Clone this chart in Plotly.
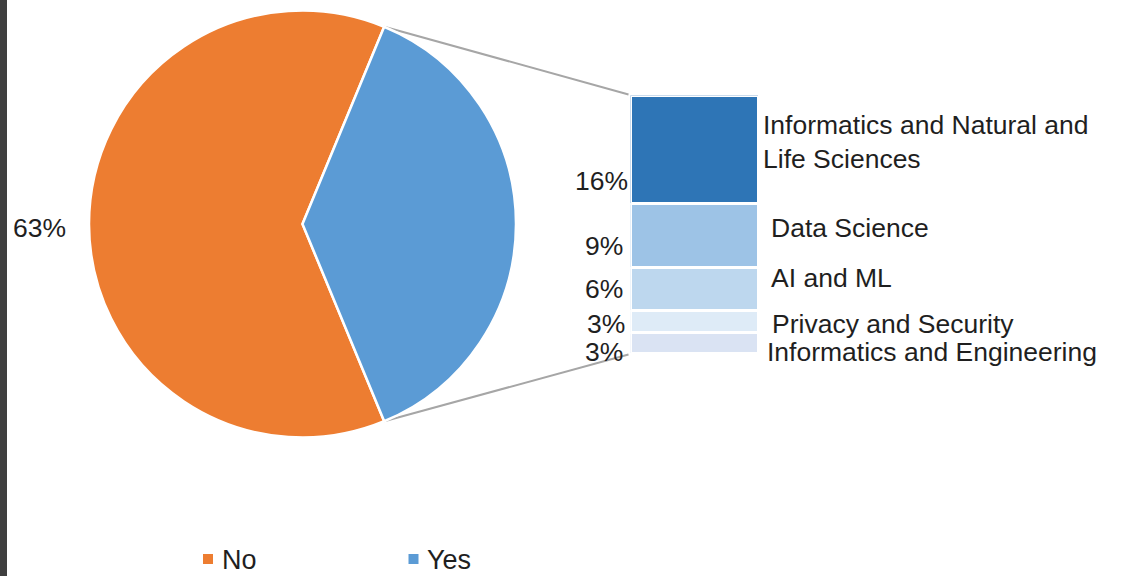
import math
import plotly.graph_objects as go

# ---------------- data ----------------
pie_labels = ["No", "Yes"]
no_count = 20
yes_categories = [
    "Informatics and Natural and Life Sciences",
    "Data Science",
    "AI and ML",
    "Privacy and Security",
    "Informatics and Engineering",
]
yes_counts = [5, 3, 2, 1, 1]

pie_colors = ["#ED7D31", "#5B9BD5"]
bar_colors = ["#2E75B6", "#9DC3E6", "#BDD7EE", "#DEEBF7", "#DAE3F3"]

# ---------------- layout constants (pixels) ----------------
W, H = 1122, 576
pie_cx, pie_cy, pie_r = 302.5, 224.0, 213.5
bar_left, bar_right, bar_top, bar_bottom = 630.5, 758.5, 95.5, 353.5
FONT = "Liberation Sans, Arial, sans-serif"
TXT = "#1f1f1f"
FS = 26.5

# per-label nudges (style) for the bar labels, top to bottom
pct_xshift = [-1, -6, -6, -4, -6]
pct_yshift = [-31.75, -10.25, 0, -2.25, -9.25]
cat_xshift = [2.5, 10.5, 10.5, 11.5, 6.5]
cat_yshift = [7.5, 7.75, 11, -2.75, -9.25]


def px(x):
    return x / W


def py(y):
    return 1 - y / H


yes_total = sum(yes_counts)
grand = no_count + yes_total
pie_values = [no_count, yes_total]


def pct(v):
    return f"{int(v * 100 / grand + 0.5)}%"


yes_share = yes_total / grand
rotation = 90 + yes_share * 180  # No starts here, clockwise; Yes centred at 3 o'clock

fig = go.Figure()

# ---------------- pie ----------------
fig.add_trace(go.Pie(
    labels=pie_labels,
    values=pie_values,
    sort=False,
    direction="clockwise",
    rotation=rotation,
    marker=dict(colors=pie_colors, line=dict(color="white", width=2.5)),
    textinfo="none",
    hoverinfo="skip",
    showlegend=False,
    domain=dict(x=[px(pie_cx - pie_r), px(pie_cx + pie_r)],
                y=[py(pie_cy + pie_r), py(pie_cy - pie_r)]),
))

# ---------------- stacked bar ----------------
for i in reversed(range(len(yes_categories))):
    fig.add_trace(go.Bar(
        x=[0], y=[yes_counts[i]], width=1,
        marker=dict(color=bar_colors[i], line=dict(color="white", width=3)),
        hoverinfo="skip", showlegend=False,
        xaxis="x", yaxis="y",
    ))

# ---------------- connector lines ----------------
a_top = math.radians(90 - yes_share * 180)
a_bot = math.radians(90 + yes_share * 180)
tx, ty = pie_cx + pie_r * math.sin(a_top), pie_cy - pie_r * math.cos(a_top)
bx, by = pie_cx + pie_r * math.sin(a_bot), pie_cy - pie_r * math.cos(a_bot)
fig.add_trace(go.Scatter(
    x=[tx, bar_left - 2, None, bx, bar_left - 2],
    y=[ty, bar_top - 1, None, by, bar_bottom + 1],
    mode="lines", line=dict(color="#A6A6A6", width=2),
    hoverinfo="skip", showlegend=False,
    xaxis="x2", yaxis="y2",
))

annotations = []

# pie label (No)
annotations.append(dict(
    xref="paper", yref="paper", x=px(68), y=py(227.5),
    xanchor="right", yanchor="middle", showarrow=False,
    text=pct(no_count), font=dict(family=FONT, size=FS, color=TXT),
))

# bar labels
cum = yes_total
for i, (cat, v) in enumerate(zip(yes_categories, yes_counts)):
    centre = cum - v / 2
    cum -= v
    annotations.append(dict(
        xref="x", yref="y", x=-0.5, y=centre,
        xanchor="right", yanchor="middle", showarrow=False,
        xshift=pct_xshift[i], yshift=pct_yshift[i],
        text=pct(v), font=dict(family=FONT, size=FS, color=TXT),
    ))
    label = cat
    if len(cat) > 30:
        words = cat.split(" ")
        label = " ".join(words[:4]) + "<br>" + " ".join(words[4:])
    annotations.append(dict(
        xref="x", yref="y", x=0.5, y=centre,
        xanchor="left", yanchor="middle", align="left", showarrow=False,
        xshift=cat_xshift[i], yshift=cat_yshift[i],
        text=label, font=dict(family=FONT, size=FS, color=TXT),
    ))

# manual legend
legend_sq_x = [208, 413.5]
legend_txt_x = [221, 426]
legend_y = 559
shapes = [dict(type="rect", xref="paper", yref="paper", x0=0, x1=px(7), y0=0, y1=1,
               fillcolor="#3F3F3F", line=dict(width=0), layer="above")]
for lab, col, sx, txx in zip(pie_labels, pie_colors, legend_sq_x, legend_txt_x):
    shapes.append(dict(type="rect", xref="paper", yref="paper",
                       x0=px(sx - 5), x1=px(sx + 5), y0=py(legend_y + 5), y1=py(legend_y - 5),
                       fillcolor=col, line=dict(width=0)))
    annotations.append(dict(
        xref="paper", yref="paper", x=px(txx), y=0,
        xanchor="left", yanchor="bottom", showarrow=False, borderpad=0,
        text=lab, font=dict(family=FONT, size=27, color=TXT),
    ))

fig.update_layout(
    width=W, height=H, autosize=False,
    margin=dict(l=0, r=0, t=0, b=0),
    paper_bgcolor="white", plot_bgcolor="rgba(0,0,0,0)",
    barmode="stack", bargap=0,
    showlegend=False,
    xaxis=dict(domain=[px(bar_left), px(bar_right)], range=[-0.5, 0.5],
               visible=False, fixedrange=True, anchor="y"),
    yaxis=dict(domain=[py(bar_bottom), py(bar_top)], range=[0, yes_total],
               visible=False, fixedrange=True, anchor="x"),
    xaxis2=dict(domain=[0, 1], range=[0, W], visible=False, fixedrange=True, anchor="y2"),
    yaxis2=dict(domain=[0, 1], range=[H, 0], visible=False, fixedrange=True, anchor="x2"),
    annotations=annotations,
    shapes=shapes,
)

fig.write_html(
    "out.html",
    config={"displayModeBar": False},
    post_script="document.body.style.margin='0';document.body.style.overflow='hidden';",
)
